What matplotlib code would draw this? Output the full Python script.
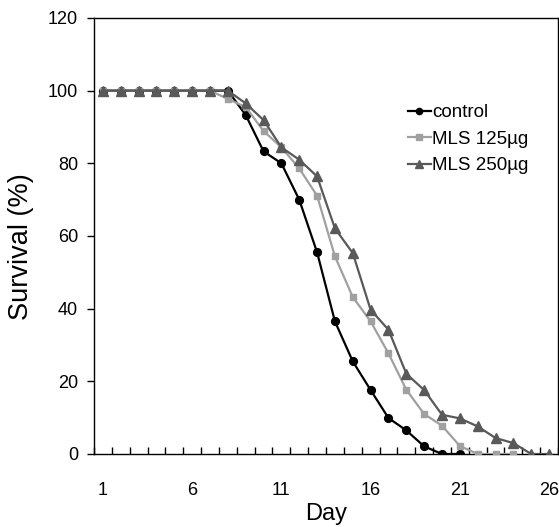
import matplotlib.pyplot as plt
import numpy as np

plt.rcParams['font.family'] = ['Liberation Sans', 'DejaVu Sans']

days = list(range(1, 27))
control = [100, 100, 100, 100, 100, 100, 100, 100, 93.3, 83.3, 80.0, 70.0, 55.5,
           36.5, 25.5, 17.6, 9.9, 6.5, 2.1, 0, 0]
mls125 = [100, 100, 100, 100, 100, 100, 100, 97.7, 95.5, 88.9, 84.4, 78.6, 71.1,
          54.4, 43.2, 36.5, 27.7, 17.7, 11.0, 7.8, 2.2, 0, 0, 0]
mls250 = [100, 100, 100, 100, 100, 100, 100, 100, 96.5, 91.9, 84.4, 81.0, 76.4,
          62.1, 55.3, 39.7, 34.2, 22.1, 17.6, 10.8, 9.8, 7.6, 4.4, 3.0, 0, 0]
xtick_labels = [1, 6, 11, 16, 21, 26]

fig = plt.figure(figsize=(5.59, 5.27), dpi=100)
ax = fig.add_axes([94 / 559, 73 / 527, 464 / 559, 436 / 527])

ax.plot(days[:len(control)], control, color='black', marker='o', markersize=5.6,
        linewidth=1.6, label='control', zorder=3)
ax.plot(days[:len(mls125)], mls125, color='#a0a0a0', marker='s', markersize=4.8,
        linewidth=1.6, label='MLS 125\u00b5g', zorder=4)
ax.plot(days[:len(mls250)], mls250, color='#595959', marker='^', markersize=7,
        linewidth=1.6, label='MLS 250\u00b5g', zorder=5)

ax.set_xlim(0.5, 26.5)
ax.set_ylim(0, 120)
ax.set_yticks(np.arange(0, 121, 20))
ax.set_xticks(xtick_labels)
ax.set_xticklabels([str(d) for d in xtick_labels])
# category-style tick marks between days, pointing inward
ax.set_xticks(np.arange(0.5, 27, 1), minor=True)
ax.tick_params(axis='x', which='major', length=0, pad=20, labelsize=13)
ax.tick_params(axis='x', which='minor', direction='in', length=5, width=1)
ax.tick_params(axis='y', direction='out', length=5, width=1, labelsize=13, pad=6.5)

for s in ax.spines.values():
    s.set_linewidth(1.0)
    s.set_color('black')

ax.set_xlabel('Day', fontsize=17, labelpad=3)
ax.set_ylabel('Survival (%)', fontsize=19.5)
ax.yaxis.set_label_coords(-0.13, 0.475)

ax.legend(loc='upper left', bbox_to_anchor=(0.66, 0.82), frameon=False,
          fontsize=13.5, handlelength=1.25, handletextpad=0.05, labelspacing=0.5,
          markerscale=0.8, borderaxespad=0)

fig.savefig('out.png', dpi=100)
